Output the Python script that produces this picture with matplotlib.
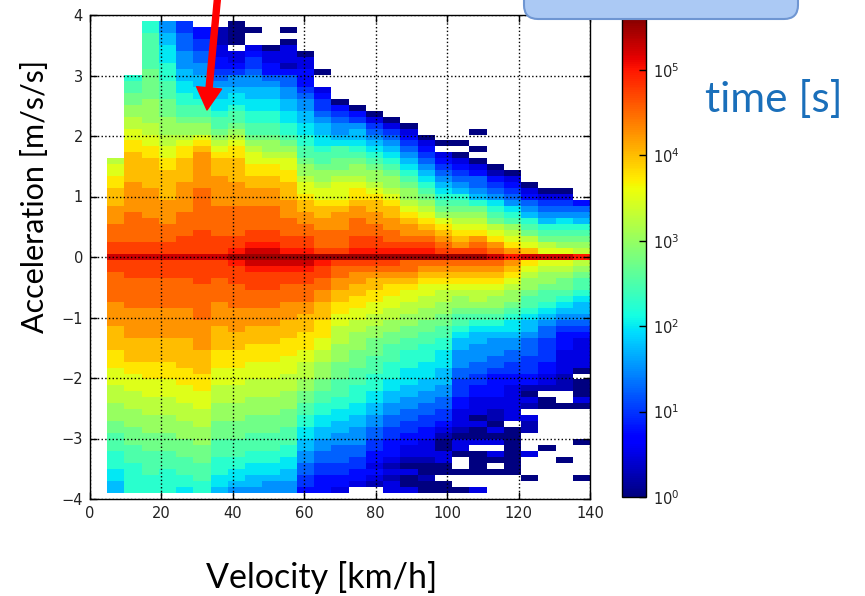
import numpy as np
import matplotlib
matplotlib.use("Agg")
import matplotlib.pyplot as plt
from matplotlib.colors import LogNorm
from matplotlib.patches import FancyBboxPatch, FancyArrowPatch, ArrowStyle
from matplotlib.transforms import IdentityTransform

# bin edges of the 2d histogram (velocity x acceleration)
vel_edges = np.linspace(0, 140, 30)
acc_edges = np.linspace(-4, 4, 82)

# colour level of a cell: letter -> log10(time [s]) in steps of 0.25, '.' = no data
levels = "ABCDEFGHIJKLMNOPQRSTUVW"

# one entry per velocity bin (from 4.8 km/h up), run-length coded,
# rows from the top (a = +3.85) down to the bottom (a = -3.85), zero row in the middle
col_codes = [
    ".23 N1 O2 P2 Q3 R3 S3 T2 V1 T2 S5 R4 Q4 P3 O3 N3 M3 L2 K3 J3 I2 H2",
    ".9 J1 K2 L2 M2 N2 O2 P2 Q5 R5 S5 T2 V1 T3 S5 R5 Q4 P2 O3 N3 M3 L3 K3 J5",
    "J2 K6 L5 M4 N2 O2 P2 Q5 R5 S4 T2 V1 T3 S5 R5 Q4 P3 O3 N3 M3 L3 K4 J3",
    "G2 H2 I3 J3 K3 L3 M3 N2 O2 P2 Q5 R4 S3 T2 V1 T3 S5 R5 Q4 P3 O3 N3 M3 L3 K3 J4",
    "E2 F3 G3 H2 I2 J2 K2 L1 M2 N1 O1 P2 Q4 R5 S4 T3 V1 T3 S5 R5 Q5 P3 O3 N3 M3 L3 K3 J2 I1",
    ".1 D2 E2 F2 G2 H2 I2 J1 K2 L1 M2 O1 P1 Q1 R6 S7 T4 V1 T4 S6 R5 Q4 P3 O3 N3 M3 L3 K3 J2",
    ".1 B3 C2 D2 E1 F1 G1 H2 I2 J1 K2 L1 M1 N1 O1 P1 Q3 R5 S5 T3 V1 T3 S4 R4 Q4 P3 O3 N3 M3 L3 K3 J3 I2 H1",
    "A4 .1 C2 D1 E1 G2 H1 I2 J1 K2 L1 M1 N1 O1 P2 Q4 R4 S5 T2 U1 W1 U1 T3 S4 R4 Q3 P3 O3 N3 M3 L3 K3 J2 I2 H1 G1",
    ".1 A1 .2 C1 D1 E2 F1 G2 H2 I2 J2 K2 L1 M1 N1 O2 P2 Q2 R3 S4 T2 U1 V1 W1 V1 U1 T3 S3 R3 Q3 P3 O3 N3 M3 L3 K3 J2 I2 H2 G1",
    ".4 A1 C2 D2 F1 G1 H2 I2 J2 K2 L1 M2 N1 O1 P2 Q2 R3 S4 T2 U1 V1 W1 V1 U1 T3 S3 R3 Q3 P3 O3 N3 M3 L3 K3 J2 I2 H1 G2",
    ".1 A1 .1 A1 C3 B1 D1 F2 G2 H2 I2 J2 K1 L1 M1 N1 O2 P2 Q3 R3 S3 T2 U1 W1 V1 U1 T2 S3 R3 Q3 P3 O3 N3 M3 L3 K3 J2 I2 H2 G2",
    ".5 A1 C2 D3 E1 F1 G2 H2 I2 J2 K2 L1 M2 N1 O2 P1 Q2 R2 S2 T2 U1 W1 V1 U1 T2 S3 R2 Q3 P3 O2 N3 M2 L2 K2 J2 I2 H2 G2 F2 E2 D1",
    ".8 A1 .2 C1 D1 E2 F1 G1 H2 I2 J1 K2 L1 M2 N1 O2 P1 Q2 R2 S3 T1 W1 U1 T2 S2 R2 Q3 P3 O2 N2 M3 L2 K2 J2 I2 H2 G2 F2 E2 D3",
    ".13 A1 D1 E1 F1 G2 H1 I1 K2 L2 M1 N1 O3 P1 Q1 R3 S3 T1 W1 T1 S2 R2 Q2 P2 O2 N3 M3 L3 K3 J2 I2 H2 G2 F3 E2 D2 C1",
    ".14 A1 D1 E1 G1 H2 I1 J1 K1 L1 M2 N1 O1 P2 Q1 R2 S3 T2 U1 W1 T1 S1 R2 Q2 P2 O2 N2 M3 L3 K3 J3 I2 H2 G3 F2 E2 D2 C1 .1",
    ".15 A1 C1 E1 F1 G1 H1 I1 J1 K1 L1 M2 N1 O1 P1 Q2 R2 S2 T2 U1 W1 T1 S1 R1 Q2 P2 O2 N2 M2 L3 K3 J3 I2 H2 G2 F2 E2 D2 C1 D1 C1 B1 .1",
    ".16 A1 C1 E1 F1 G1 H1 I1 J1 K1 L1 M2 N1 O1 P1 Q2 R2 S2 T1 U1 W1 T1 S1 R1 Q1 P2 O2 N2 M2 L2 K3 J3 I2 H2 G2 F2 E2 D3 C1 B1 C1 B1 C2",
    ".17 A1 C1 D1 E1 F1 G1 H1 I1 J1 K1 L1 M2 N1 O1 P1 Q1 R2 S1 T1 U1 W1 S2 R1 Q1 P1 O2 N2 M2 L2 K2 J3 I3 H2 G2 F2 E2 D2 C2 B1 A1 C1 A2 C1",
    ".19 A1 C1 D1 E1 F1 G1 H1 I1 J1 K1 L1 M1 N1 O1 P1 Q1 R1 S1 T1 U1 W1 S1 R1 Q1 P1 O2 N2 M2 L2 K2 J3 I3 H2 G2 F2 E2 D2 C3 B1 A2 B1 A2",
    ".20 A1 .1 C1 D1 E1 F1 G1 H1 I1 J1 K1 L1 M1 O1 P1 Q1 R1 S1 T1 W1 S1 R1 Q1 P1 O1 N2 M2 L2 K2 J2 I3 H3 G2 F2 E2 D1 C1 B1 A2 C2 A2 .1 A2",
    ".20 A1 .1 A1 C1 D1 E1 F1 G1 H1 J1 K1 L1 M1 N1 O1 P1 Q1 R1 T1 W1 S1 R1 Q1 P1 O1 N1 M2 L1 K2 J1 I1 H2 G3 F2 E3 D2 C3 B1 A1 C2 A1 .2 A1 .2 A1",
    ".18 A1 .2 A1 .1 A1 C1 D1 F2 G1 H1 J1 L1 M1 N1 O1 P1 R1 S1 T1 W1 S1 R1 Q1 P1 O1 N2 M1 L1 K1 J1 I1 H2 G3 F2 E2 D2 C3 A1 C1 A2 C1 .1 A4 .2 C1",
    ".24 A1 B1 D1 E1 F1 G1 I1 J1 K1 L1 N1 O1 P1 R1 S1 V1 S1 R1 Q1 P1 O1 N1 M2 L1 K1 J1 I1 H1 G3 F2 E1 D4 C2 B2 A1 C1 A1 C1 .1 C1 A1 .1 A1 .3",
    ".25 A1 C1 D1 E1 F1 G1 I1 J1 K1 M1 N1 O1 P1 R1 U1 R1 Q1 P1 O1 N1 M2 L1 K1 J1 I2 H1 G2 F2 E2 D2 C6 .1 A8 .3",
    ".27 A1 C1 D1 F1 G1 H1 J1 K1 L1 N1 O1 Q1 V1 P1 O1 N1 M2 L1 K2 J1 I1 H2 G1 F3 E3 D2 B1 A1 C1 B1 .1 C1 B2 .3 C1 .3 A1 .2",
    ".28 A1 C1 E1 F1 G1 H1 J1 K1 L1 N1 O1 V1 O1 N1 M2 L1 K2 J1 I1 H1 G1 F2 E4 D2 C2 B1 .1 A2 .6 A1 .7",
    ".28 A1 C1 E1 F1 G1 I1 J1 K1 L1 M1 O1 V1 O1 N1 M1 L2 K1 J1 I1 H1 G1 F1 E1 D3 C4 B3 .2 A1 .8 A1 .5",
    ".30 D1 F1 G1 H1 J1 K1 L1 M1 N1 U1 N1 M1 L1 K2 J1 I1 H2 G1 F1 E1 D1 C5 A1 .1 A3 C1 A1 .5 A1 .5 A1 .2",
]

colorbar_ticks = [1e0, 1e1, 1e2, 1e3, 1e4, 1e5]
x_ticks = [0, 20, 40, 60, 80, 100, 120, 140]
y_ticks = [-4, -3, -2, -1, 0, 1, 2, 3, 4]


def decode(code):
    rows = ""
    for tok in code.split():
        rows += tok[0] * int(tok[1:])
    assert len(rows) == 79, (code, len(rows))
    return rows


# histogram matrix: rows = acceleration bins (bottom up), cols = velocity bins
hist = np.full((len(acc_edges) - 1, len(vel_edges) - 1), np.nan)
for c, code in enumerate(col_codes, start=1):
    for j, ch in enumerate(decode(code)):
        if ch != ".":
            hist[79 - j, c] = 10 ** (levels.index(ch) * 0.25)

W, H = 865, 596
fig = plt.figure(figsize=(W / 100, H / 100), dpi=100)
ax = fig.add_axes([90 / W, (H - 499) / H, 500 / W, 484 / H])
cax = fig.add_axes([622 / W, (H - 497) / H, 24 / W, 482 / H])

mesh = ax.pcolormesh(vel_edges, acc_edges, np.ma.masked_invalid(hist),
                     cmap="jet", norm=LogNorm(vmin=1, vmax=10 ** 5.644))
ax.set_xlim(0, 140)
ax.set_ylim(-4, 4)
ax.set_xticks(x_ticks)
ax.set_yticks(y_ticks)
ax.grid(True, linestyle=":", color="k", linewidth=1.0)
ax.set_axisbelow(False)
ax.tick_params(direction="in", top=True, right=True, length=5, width=1,
               labelsize=10.5, labelcolor="#222222", pad=5)
for s in ax.spines.values():
    s.set_linewidth(1.0)

cb = fig.colorbar(mesh, cax=cax)
cb.set_ticks(colorbar_ticks)
cb.ax.minorticks_off()
cb.ax.tick_params(direction="in", length=5, width=1, labelsize=10.5,
                  labelcolor="#222222", pad=5)
cb.outline.set_linewidth(1.0)

# office style annotations around the plot
big = ["Lato", "DejaVu Sans"]
fig.text(322 / W, (H - 578) / H, "Velocity [km/h]", ha="center", va="center",
         fontsize=24.5, family=big)
fig.text(35 / W, (H - 196) / H, "Acceleration [m/s/s]", ha="center", va="center",
         rotation=90, fontsize=22, family=big)
fig.text(774 / W, (H - 99) / H, "time [s]", ha="center", va="center",
         fontsize=30.5, family=big, color="#1a6fba")

box = FancyBboxPatch((524, H - 19), 274, 50,
                     boxstyle="round,pad=0,rounding_size=14",
                     fc="#abc9f4", ec="#6f96d2", lw=1.5,
                     transform=IdentityTransform())
fig.add_artist(box)

arrow = FancyArrowPatch((217.5, H + 2), (207, H - 110),
                        arrowstyle=ArrowStyle.Simple(head_length=16, head_width=18, tail_width=4.3),
                        mutation_scale=1, shrinkA=0, shrinkB=0,
                        color="#ff0000", transform=IdentityTransform())
fig.add_artist(arrow)

fig.savefig("out.png", dpi=100)
